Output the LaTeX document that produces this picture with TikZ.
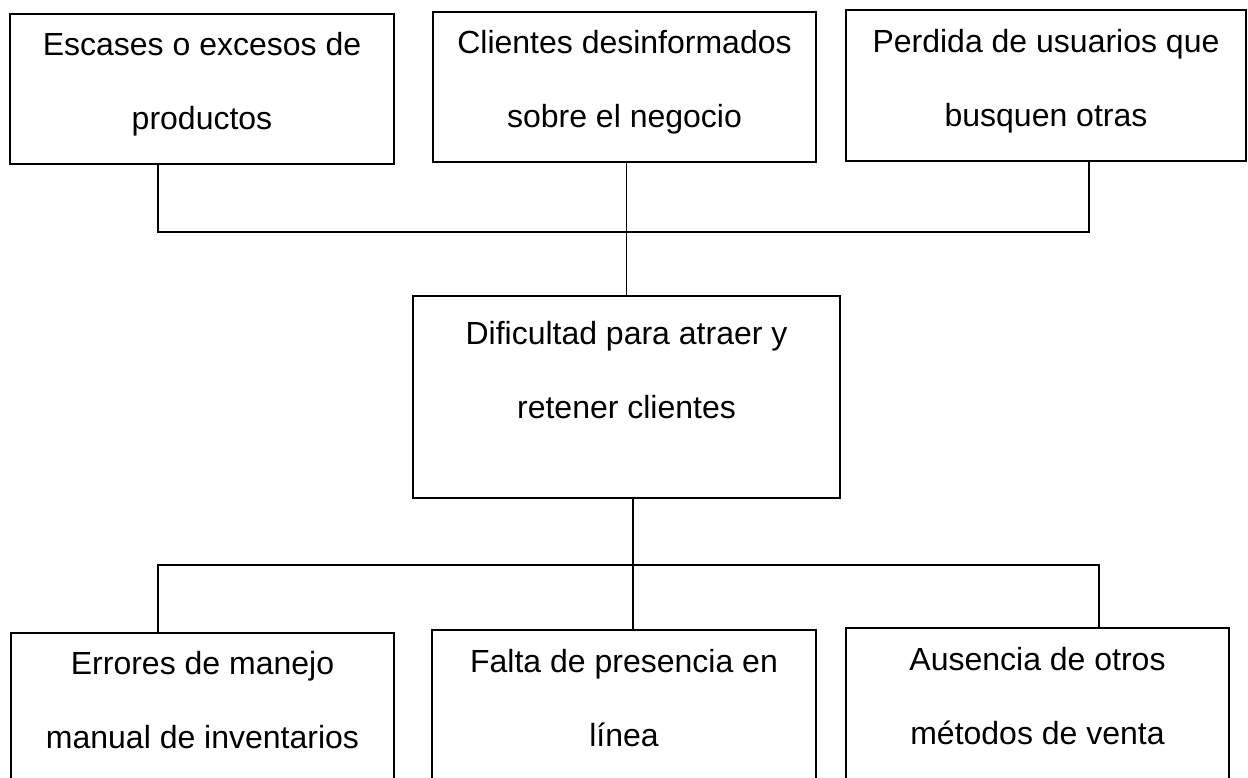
\documentclass[tikz,border=0pt]{standalone}
\usepackage{fontspec}
\setmainfont{Liberation Sans}
\usetikzlibrary{positioning}

\begin{document}
\begin{tikzpicture}[x=0.5pt, y=-0.5pt,
  box/.style={draw, line width=1pt, inner sep=0pt, minimum width=192pt, minimum height=75pt},
  txt/.style={align=center, inner sep=0pt, font=\fontsize{16pt}{37pt}\selectfont},
  link/.style={line width=0.6pt}]
  \useasboundingbox (0,0) rectangle (1248,777);
  \clip (0,0) rectangle (1248,777);

  \node[box] (esc) at (202,89) {};
  \node[box, minimum width=191.5pt] (cli) at (624.5,87) {};
  \node[box, minimum width=200pt, minimum height=75.5pt] (perd) at (1046,85.5) {};
  \node[box, minimum width=213.5pt, minimum height=101pt] (dif) at (626.5,397) {};
  \node[box, minimum width=191.5pt, minimum height=100pt] (err) at (202.5,733) {};
  \node[box, minimum height=100pt] (fal) at (624,730) {};
  \node[box, minimum width=191.5pt, minimum height=100pt] (aus) at (1037.5,728) {};

  \node[txt, below=9.5pt of esc.north] {Escases o excesos de\\productos};
  \node[txt, below=9.5pt of cli.north] {Clientes desinformados\\sobre el negocio};
  \node[txt, below=10pt of perd.north] {Perdida de usuarios que\\busquen otras};
  \node[txt, below=13pt of dif.north] {Dificultad para atraer y\\retener clientes};
  \node[txt, below=9.5pt of err.north] {Errores de manejo\\manual de inventarios};
  \node[txt, below=10pt of fal.north] {Falta de presencia en\\línea};
  \node[txt, below=10pt of aus.north] {Ausencia de otros\\métodos de venta};

  \coordinate (topL) at (158,232);
  \coordinate (topR) at (1089,232);
  \coordinate (botL) at (158,565);
  \coordinate (botM) at (633,565);
  \coordinate (botR) at (1099,565);

  \draw[link] (esc.south -| topL) -- (topL) -- (topR) -- (perd.south -| topR);
  \draw[link] (dif.north) -- (dif.north |- cli.south);
  \draw[link] (err.north -| botL) -- (botL) -- (botR) -- (aus.north -| botR);
  \draw[link] (dif.south -| botM) -- (fal.north -| botM);
\end{tikzpicture}
\end{document}
